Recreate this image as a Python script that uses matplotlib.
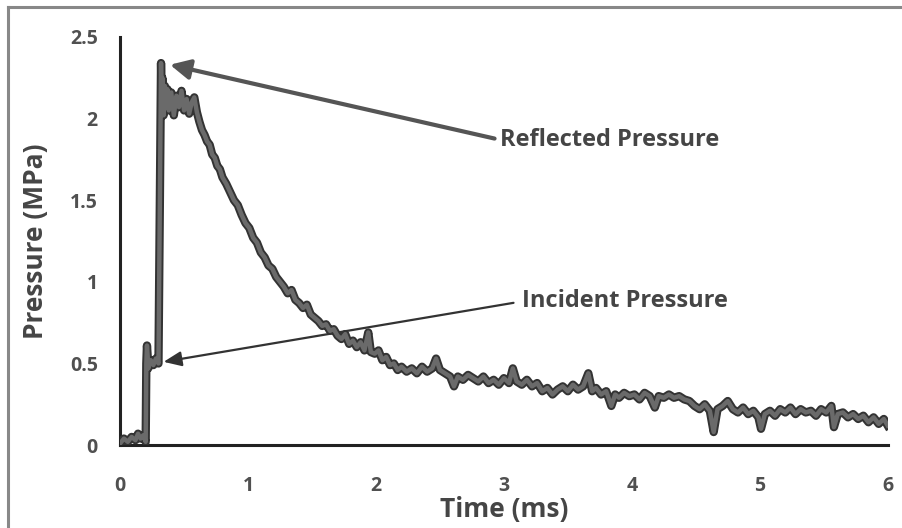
import matplotlib
matplotlib.use("Agg")
import matplotlib.pyplot as plt
from matplotlib.lines import Line2D

# pressure trace (time in ms, pressure in MPa)
time_ms = [
    0.00, 0.03, 0.06, 0.09, 0.12, 0.14, 0.16, 0.18, 0.20,
    0.205, 0.21, 0.215, 0.22, 0.24, 0.26, 0.28, 0.30,
    0.31, 0.32, 0.325, 0.33, 0.34, 0.35, 0.36,
    0.37, 0.38, 0.40, 0.42, 0.44, 0.46, 0.48, 0.50, 0.52, 0.54, 0.56, 0.58, 0.60,
    0.62, 0.64, 0.66, 0.68, 0.70, 0.72, 0.74, 0.76, 0.78, 0.80, 0.83, 0.86, 0.89, 0.92,
    0.95, 0.98, 1.01, 1.04, 1.07, 1.10, 1.13, 1.16, 1.19, 1.22, 1.25, 1.28, 1.31, 1.34,
    1.37, 1.40, 1.43, 1.46, 1.49, 1.52, 1.55, 1.58, 1.61, 1.64, 1.67, 1.70,
    1.73, 1.76, 1.79, 1.82, 1.85, 1.88, 1.91, 1.94, 1.96, 1.99, 2.02, 2.05, 2.08, 2.11,
    2.14, 2.17, 2.20, 2.24, 2.28, 2.32, 2.36, 2.40, 2.44, 2.47, 2.50, 2.54, 2.58, 2.61,
    2.64, 2.68, 2.72, 2.76, 2.80, 2.84, 2.88, 2.92, 2.96, 3.00, 3.04, 3.07, 3.10, 3.14,
    3.18, 3.22, 3.26, 3.30, 3.34, 3.38, 3.42, 3.46, 3.50, 3.54, 3.58, 3.62, 3.66, 3.69,
    3.72, 3.76, 3.80, 3.84, 3.87, 3.90, 3.94, 3.98, 4.02, 4.06, 4.10, 4.14, 4.18, 4.21,
    4.25, 4.29, 4.33, 4.37, 4.41, 4.45, 4.49, 4.53, 4.57, 4.61, 4.64, 4.67, 4.71, 4.75,
    4.79, 4.83, 4.87, 4.91, 4.95, 4.99, 5.01, 5.04, 5.08, 5.12, 5.16, 5.20, 5.24, 5.28,
    5.32, 5.36, 5.40, 5.44, 5.48, 5.52, 5.56, 5.58, 5.61, 5.65, 5.69, 5.73, 5.77, 5.81,
    5.85, 5.89, 5.93, 5.97, 6.00,
]
pressure_mpa = [
    0.01, 0.04, 0.02, 0.05, 0.03, 0.07, 0.04, 0.06, 0.02,
    0.50, 0.61, 0.55, 0.47, 0.52, 0.49, 0.53, 0.50,
    1.40, 2.34, 2.10, 2.25, 2.02, 2.20, 2.08,
    2.18, 2.05, 2.16, 2.02, 2.14, 2.07, 2.17, 2.05, 2.12, 2.03, 2.10, 2.13, 2.04,
    1.98, 1.93, 1.90, 1.86, 1.84, 1.78, 1.76, 1.71, 1.69, 1.64, 1.60, 1.55, 1.50, 1.47,
    1.41, 1.36, 1.33, 1.27, 1.24, 1.18, 1.15, 1.10, 1.08, 1.03, 1.00, 0.97, 0.93, 0.95,
    0.89, 0.87, 0.84, 0.86, 0.80, 0.78, 0.76, 0.73, 0.74, 0.70, 0.71, 0.67,
    0.65, 0.68, 0.62, 0.64, 0.60, 0.63, 0.58, 0.69, 0.57, 0.56, 0.58, 0.52, 0.54, 0.49,
    0.50, 0.46, 0.48, 0.45, 0.47, 0.44, 0.48, 0.45, 0.47, 0.53, 0.46, 0.44, 0.42, 0.36,
    0.42, 0.40, 0.43, 0.41, 0.39, 0.42, 0.38, 0.40, 0.37, 0.41, 0.38, 0.47, 0.39, 0.37,
    0.40, 0.36, 0.38, 0.33, 0.35, 0.31, 0.34, 0.36, 0.33, 0.37, 0.34, 0.36, 0.44, 0.33,
    0.35, 0.31, 0.33, 0.24, 0.31, 0.29, 0.32, 0.30, 0.31, 0.28, 0.32, 0.30, 0.23, 0.30,
    0.29, 0.31, 0.29, 0.30, 0.28, 0.27, 0.24, 0.22, 0.25, 0.21, 0.08, 0.22, 0.24, 0.27,
    0.22, 0.20, 0.23, 0.19, 0.21, 0.17, 0.10, 0.19, 0.21, 0.18, 0.22, 0.20, 0.23, 0.19,
    0.22, 0.20, 0.21, 0.18, 0.22, 0.20, 0.24, 0.11, 0.19, 0.20, 0.17, 0.19, 0.16, 0.18,
    0.14, 0.17, 0.13, 0.16, 0.12,
]

x_ticks = [0, 1, 2, 3, 4, 5, 6]
y_ticks = [0, 0.5, 1, 1.5, 2, 2.5]
y_tick_labels = ["0", "0.5", "1", "1.5", "2", "2.5"]

plt.rcParams['font.family'] = ['Open Sans', 'DejaVu Sans']
plt.rcParams['font.weight'] = 'bold'

fig = plt.figure(figsize=(9.03, 5.28), dpi=100)
ax = fig.add_axes([0.133, 0.157, 0.850, 0.773])

# trace: dark outline with a grey core
ax.plot(time_ms, pressure_mpa, color='#333333', lw=6, solid_joinstyle='round', zorder=3)
ax.plot(time_ms, pressure_mpa, color='#6a6a6a', lw=3.2, solid_joinstyle='round', zorder=4)

ax.set_xlim(0, 6)
ax.set_ylim(0, 2.5)
ax.set_xticks(x_ticks)
ax.set_yticks(y_ticks)
ax.set_yticklabels(y_tick_labels)
ax.tick_params(length=0, labelsize=14, labelcolor='#505050')
ax.tick_params(axis='y', pad=16)
ax.tick_params(axis='x', pad=22)
for side in ['top', 'right']:
    ax.spines[side].set_visible(False)
for side in ['left', 'bottom']:
    ax.spines[side].set_color('#222222')
    ax.spines[side].set_linewidth(2.2)

ax.set_xlabel('Time (ms)', fontsize=19, fontweight='bold', color='#454545', labelpad=0)
ax.set_ylabel('Pressure (MPa)', fontsize=19, fontweight='bold', color='#454545', labelpad=15)

ax.annotate('Reflected Pressure', xy=(0.39, 2.33), xytext=(2.97, 1.87),
            ha='left', va='center', fontsize=17, fontweight='bold', color='#454545',
            arrowprops=dict(arrowstyle='-|>,head_length=0.6,head_width=0.3',
                            color='#555555', lw=3, relpos=(0, 0.5),
                            shrinkA=2, shrinkB=0, mutation_scale=20))
ax.annotate('Incident Pressure', xy=(0.34, 0.51), xytext=(3.14, 0.88),
            ha='left', va='center', fontsize=17, fontweight='bold', color='#454545',
            arrowprops=dict(arrowstyle='-|>,head_length=0.6,head_width=0.25',
                            color='#333333', lw=1.6, relpos=(0, 0.5),
                            shrinkA=4, shrinkB=0, mutation_scale=18))

# scanned frame around the chart
fig.add_artist(Line2D([8 / 903, 1.0], [1 - 7 / 528, 1 - 7 / 528], color='#888888', lw=2.2))
fig.add_artist(Line2D([8 / 903, 8 / 903], [0.0, 1 - 7 / 528], color='#888888', lw=2.2))

fig.savefig('out.png', dpi=100)
